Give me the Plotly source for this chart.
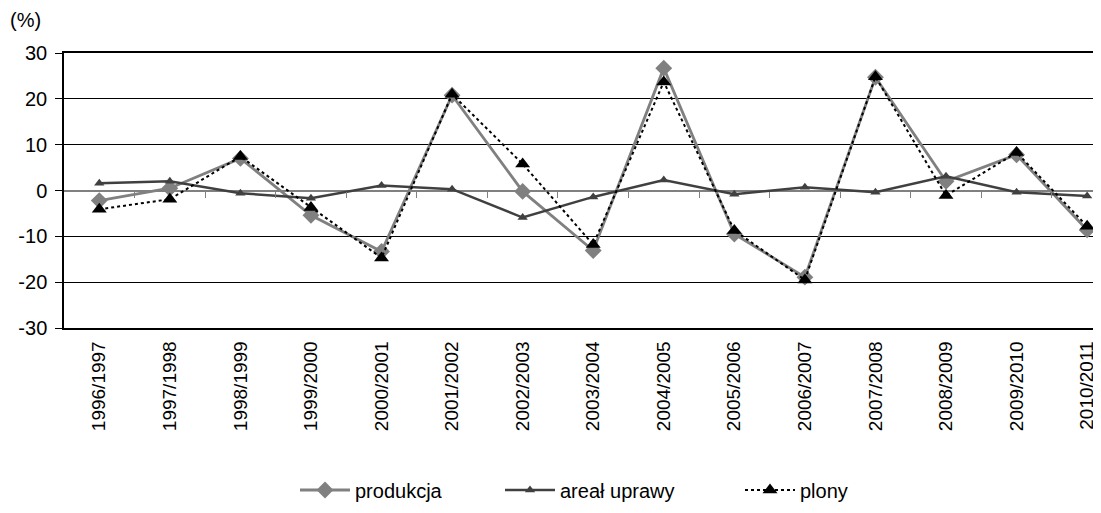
import plotly.graph_objects as go

categories = ["1996/1997", "1997/1998", "1998/1999", "1999/2000", "2000/2001",
              "2001/2002", "2002/2003", "2003/2004", "2004/2005", "2005/2006",
              "2006/2007", "2007/2008", "2008/2009", "2009/2010", "2010/2011"]
produkcja = [-2.2, 0.5, 7.0, -5.4, -13.3, 20.8, -0.2, -13.1, 26.7, -9.5, -18.9, 24.7, 2.0, 7.8, -8.6]
areal = [1.6, 2.0, -0.6, -1.7, 1.1, 0.3, -5.9, -1.4, 2.3, -0.8, 0.7, -0.4, 3.1, -0.4, -1.2]
plony = [-4.1, -1.9, 7.4, -3.7, -14.7, 21.0, 5.8, -11.8, 23.7, -8.7, -19.5, 24.8, -1.1, 8.3, -7.8]
y_ticks = [-30, -20, -10, 0, 10, 20, 30]
y_ticktext = ["-30", "-20", "-10", "0", "10", "20", "30"]
boundary_ticks = [i + 0.5 for i in range(len(categories) - 1)]

FONT = "Liberation Sans, Arial, sans-serif"
x_idx = list(range(len(categories)))

# plot area in figure pixels
L, T, PW, PH = 56, 45, 1045, 275
W, H = 1101, 513

def px_x(p):
    return (p - L) / PW

def px_y(p):
    return (T + PH - p) / PH

fig = go.Figure()
fig.add_trace(go.Scatter(
    x=x_idx, y=produkcja, name="produkcja", mode="lines+markers", legend="legend",
    line=dict(color="#808080", width=2.8),
    marker=dict(symbol="diamond", size=13, color="#808080")))
fig.add_trace(go.Scatter(
    x=x_idx, y=areal, name="areał uprawy", mode="lines+markers", legend="legend2",
    line=dict(color="#404040", width=2.5),
    marker=dict(symbol="triangle-up", size=9, color="#404040")))
fig.add_trace(go.Scatter(
    x=x_idx, y=plony, name="plony", mode="lines+markers", legend="legend3",
    line=dict(color="#000000", width=2, dash="dot"),
    marker=dict(symbol="triangle-up", size=13, color="#000000")))

# secondary x-axis used for boundary ticks along the zero line
fig.add_trace(go.Scatter(x=[0], y=[0], xaxis="x2", showlegend=False,
                         mode="markers", marker=dict(opacity=0), hoverinfo="skip"))

leg_common = dict(orientation="h", yanchor="middle", y=px_y(482), xanchor="left",
                  font=dict(size=20, family=FONT), itemwidth=50, bgcolor="rgba(0,0,0,0)")

xr = [-0.5, 14.31]
fig.update_layout(
    width=W, height=H,
    margin=dict(l=L, r=W - L - PW, t=T, b=H - T - PH),
    paper_bgcolor="white", plot_bgcolor="white",
    font=dict(family=FONT, size=20, color="black"),
    showlegend=True,
    legend=dict(leg_common, x=px_x(287)),
    legend2=dict(leg_common, x=px_x(492)),
    legend3=dict(leg_common, x=px_x(732)),
    xaxis=dict(range=xr, tickmode="array", tickvals=x_idx, ticktext=categories,
               tickangle=-90, showgrid=False, zeroline=False, ticks="",
               showline=True, linecolor="black", linewidth=1.5, mirror=True,
               ticklabelstandoff=4, tickfont=dict(size=19)),
    xaxis2=dict(range=xr, overlaying="x", anchor="free", position=0.5,
                side="bottom", tickmode="array", tickvals=boundary_ticks,
                showticklabels=False, ticks="outside", ticklen=6, tickcolor="#808080",
                showline=False, showgrid=False, zeroline=False),
    yaxis=dict(range=[-30, 30], tickmode="array", tickvals=y_ticks, ticktext=y_ticktext,
               showgrid=True, gridcolor="black", gridwidth=1,
               zeroline=True, zerolinecolor="#808080", zerolinewidth=2,
               showline=True, linecolor="black", linewidth=1.5,
               ticks="outside", ticklen=7, tickcolor="black",
               ticklabelstandoff=4, tickfont=dict(size=20)),
    annotations=[dict(text="(%)", xref="paper", yref="paper", x=px_x(0), y=px_y(12),
                      xanchor="left", yanchor="middle", showarrow=False,
                      font=dict(size=20))],
)

fig.write_html("out.html")
